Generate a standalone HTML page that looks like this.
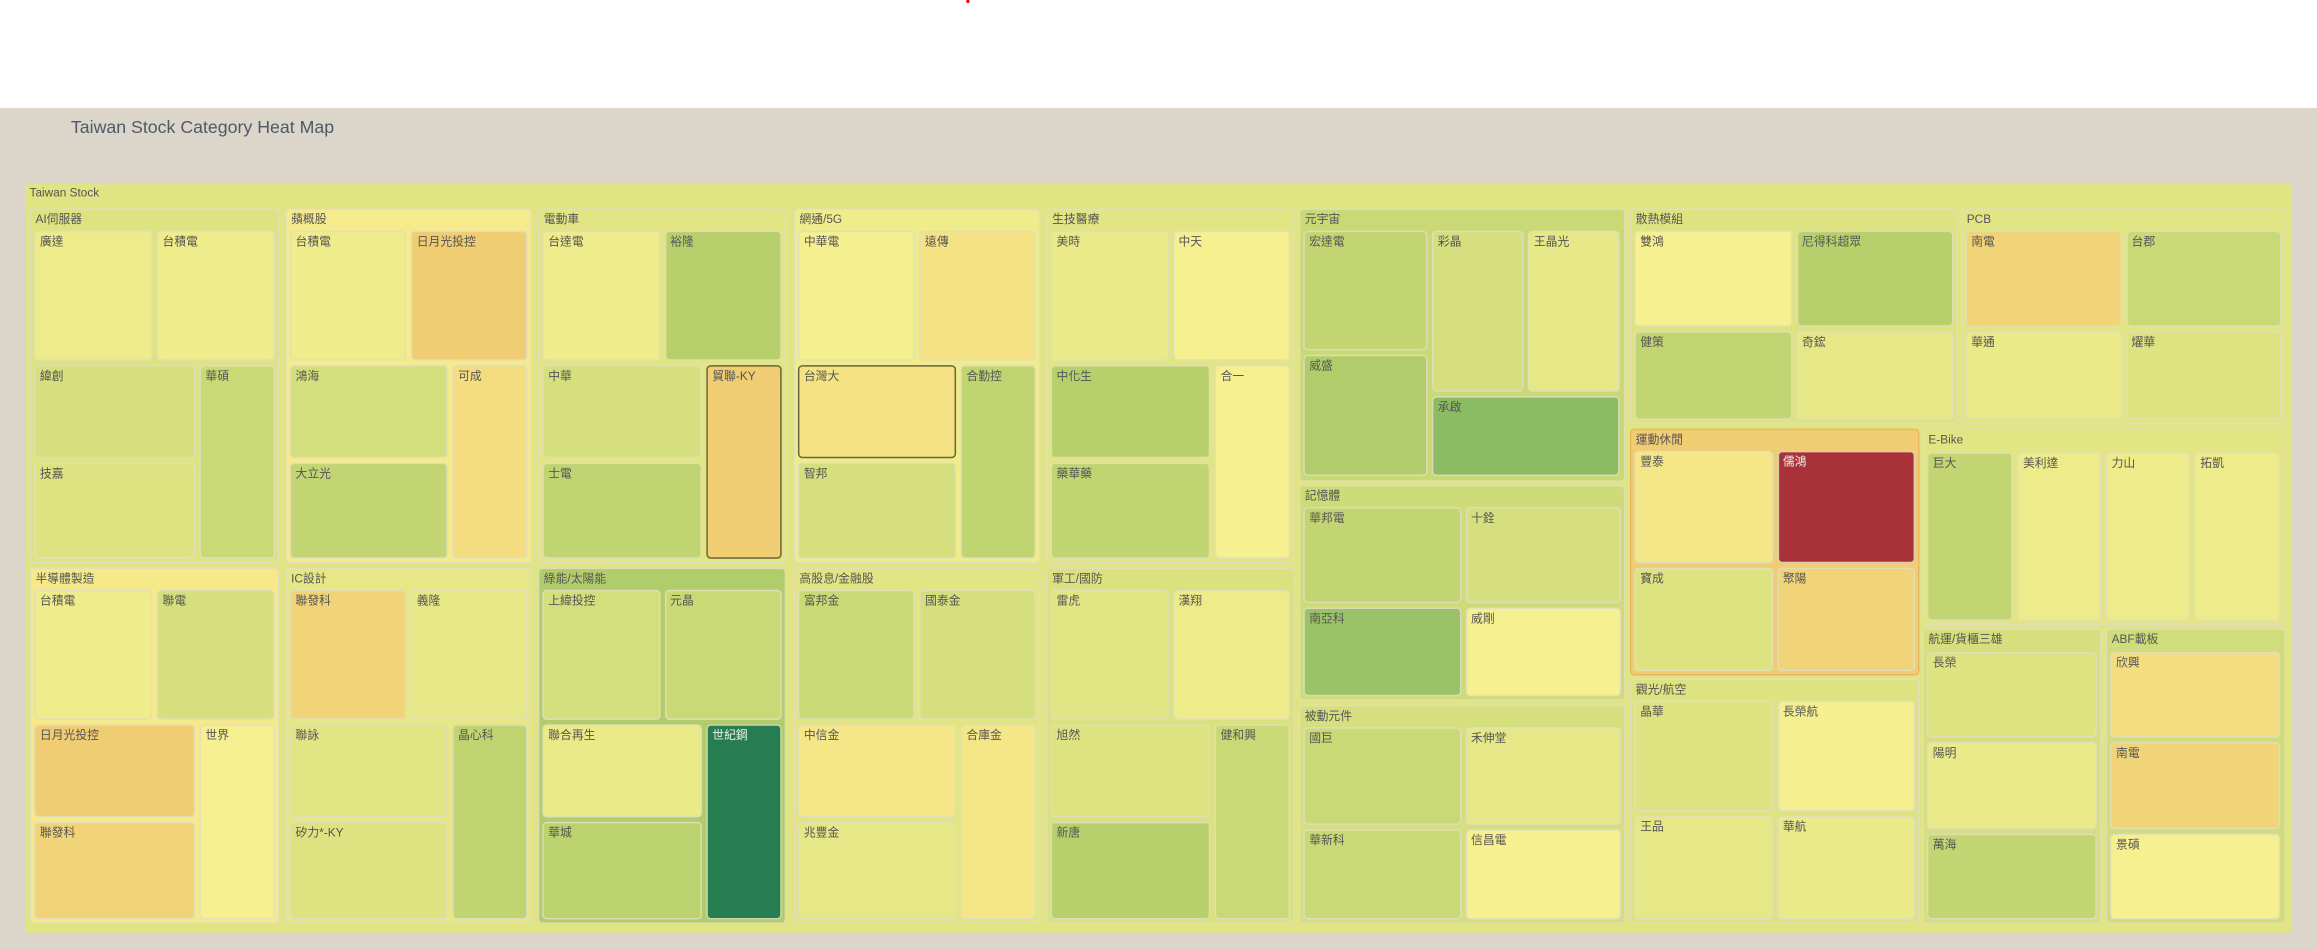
<!DOCTYPE html>
<html><head><meta charset="utf-8">
<style>
html,body{margin:0;padding:0;background:#fff;overflow:hidden;width:2317px;height:949px}
#stage{position:absolute;left:0;top:0;width:1568px;height:642px;transform-origin:0 0;transform:scale(1.47768,1.47819);font-family:"Liberation Sans","Noto Sans CJK TC",sans-serif}
#bg{position:absolute;left:0;top:73px;width:1568px;height:569px;background:#dcd5c9}
#title{position:absolute;left:48px;top:79px;font-size:12px;color:#4d5a68}
.box{position:absolute;box-sizing:border-box;border-radius:3px;border:1px solid rgba(225,222,190,0.9);overflow:hidden}
.lbl{position:absolute;left:3px;top:2px;font-size:8px;color:#555;white-space:nowrap;line-height:10px}
</style></head><body>
<div id="stage">
<div style="position:absolute;left:654px;top:0;width:2px;height:2px;background:#e00"></div>
<div id="bg"></div>
<div id="title">Taiwan Stock Category Heat Map</div>
<div id="tm"></div>
</div>
<script>
const sectorNames=["AI伺服器","蘋概股","電動車","網通/5G","生技醫療","半導體製造","IC設計","綠能/太陽能","高股息/金融股","軍工/國防","元宇宙","記憶體","被動元件","散熱模組","PCB","運動休閒","觀光/航空","E-Bike","航運/貨櫃三雄","ABF載板"];
const sectorChange=[0.6,-0.2,0.5,0.2,0.5,-0.3,0.4,1.6,0.5,0.7,1.1,1.0,0.8,0.6,0.5,-1.5,0.6,0.5,0.8,0.9];
const stockNames=[
["廣達","台積電","緯創","技嘉","華碩"],
["台積電","日月光投控","鴻海","大立光","可成"],
["台達電","裕隆","中華","士電","貿聯-KY"],
["中華電","遠傳","台灣大","智邦","合勤控"],
["美時","中天","中化生","藥華藥","合一"],
["台積電","聯電","日月光投控","聯發科","世界"],
["聯發科","義隆","聯詠","矽力*-KY","晶心科"],
["上緯投控","元晶","聯合再生","華城","世紀鋼"],
["富邦金","國泰金","中信金","兆豐金","合庫金"],
["雷虎","漢翔","旭然","新唐","健和興"],
["宏達電","彩晶","王晶光","威盛","承啟"],
["華邦電","十銓","南亞科","威剛"],
["國巨","禾伸堂","華新科","信昌電"],
["雙鴻","尼得科超眾","健策","奇鋐"],
["南電","台郡","華通","燿華"],
["豐泰","儒鴻","寶成","聚陽"],
["晶華","長榮航","王品","華航"],
["巨大","美利達","力山","拓凱"],
["長榮","陽明","萬海"],
["欣興","南電","景碩"]];
const stockChange=[
[0.25,0.2,0.8,0.6,1.1],
[0.2,-1.5,0.85,1.25,-0.8],
[0.2,1.5,0.8,1.3,-1.5],
[0.05,-0.6,-0.6,0.8,1.3],
[0.3,0,1.5,1.3,0],
[0.2,0.8,-1.5,-1.2,0],
[-1.2,0.4,0.5,0.6,1.3],
[0.85,1.1,0.3,1.4,3],
[1.1,0.8,-0.4,0.4,-0.4],
[0.5,0.25,0.6,1.5,1.1],
[1.25,0.8,0.4,1.6,2.1],
[1.25,0.8,1.9,0],
[1.1,0.4,1.1,0],
[0,1.5,1.25,0.4],
[-1.2,1.1,0.3,0.6],
[-0.4,-3,0.6,-1.2],
[0.6,0.05,0.4,0.3],
[1.25,0.25,0.25,0.25],
[0.6,0.3,1.25],
[-0.8,-1.2,0]];
// layout (pixel geometry, not data)
const sectorRects=[[20,189,141,381],[193,360,141,381],[364,532,141,381],[537,704,141,381],[708,876,141,381],[20,189,384,625],[193,360,384,625],[364,532,384,625],[537,704,384,625],[708,876,384,625],[879,1100,141,326],[879,1100,328,474],[879,1100,477,625],[1103,1325,141,287],[1327,1547,141,287],[1103,1299,290,457],[1103,1299,459,625],[1301,1547,290,423],[1301,1422,425,625],[1425,1547,425,625]];
const L5=(x,w,y,h)=>{const a=(w-9)/2;const top=Math.round((h-21)*0.4);const r=x+w-3-Math.round((w-9)*0.32);return[[x+3,x+3+a,y+15,y+15+top],[x+6+a,x+w-3,y+15,y+15+top],[x+3,r-3,y+18+top,y+18+top+(h-24-top)/2-1.5],[x+3,r-3,y+18+top+(h-24-top)/2+1.5,y+h-3],[r,x+w-3,y+18+top,y+h-3]];};
const tileRects=[];
for(let i=0;i<10;i++){const s=sectorRects[i];tileRects.push(L5(s[0],s[1]-s[0],s[2],s[3]-s[2]));}
tileRects.push([[882,966,156,237],[969,1031,156,265],[1034,1096,156,265],[882,966,240,322],[969,1096,268,322]]);
const Q=(x0,x1,y0,y1)=>{const m=Math.round((x0+x1)/2),n=Math.round((y0+16+y1)/2);return[[x0+3,m-1.5,y0+15,n-1.5],[m+1.5,x1-3,y0+15,n-1.5],[x0+3,m-1.5,n+1.5,y1-3],[m+1.5,x1-3,n+1.5,y1-3]];};
for(let i=11;i<17;i++){const s=sectorRects[i];tileRects.push(Q(s[0],s[1],s[2],s[3]));}
tileRects.push([[1304,1362,306,420],[1365,1422,306,420],[1425,1482,306,420],[1485,1543,306,420]]);
tileRects.push([[1304,1419,441,499],[1304,1419,502,561],[1304,1419,564,622]]);
tileRects.push([[1428,1543,441,499],[1428,1543,502,561],[1428,1543,564,622]]);
const highlighted={"2-4":1,"3-2":1};
const stops=[-3,-1.5,0,1.5,2.2,3];
const stopCols=["#a83238","#f0cc72","#f7f090","#b8d06c","#84b762","#267d4f"];
function hx(c){return[1,3,5].map(i=>parseInt(c.substr(i,2),16));}
function colorScale(v){v=Math.max(-3,Math.min(3,v));for(let i=0;i<stops.length-1;i++){if(v<=stops[i+1]){const t=(v-stops[i])/(stops[i+1]-stops[i]);const a=hx(stopCols[i]),b=hx(stopCols[i+1]);return"rgb("+a.map((x,k)=>Math.round(x+(b[k]-x)*t)).join(",")+")";}}return stopCols[5];}
const tm=document.getElementById('tm');
function box(r,col,label){const d=document.createElement('div');d.className='box';d.style.left=r[0]+'px';d.style.top=r[2]+'px';d.style.width=(r[1]-r[0])+'px';d.style.height=(r[3]-r[2])+'px';d.style.background=col;const l=document.createElement('div');l.className='lbl';l.textContent=label;


d.appendChild(l);tm.appendChild(d);return d;}
const root=box([17,1551,124,631],colorScale(0.55),"Taiwan Stock");


root.style.border='none';
sectorNames.forEach((n,i)=>{
  const s=box(sectorRects[i],colorScale(sectorChange[i]),n);
  
  
  if(i==15){s.style.border='1px solid #e8b860';}
  stockNames[i].forEach((sn,j)=>{
    const t=box(tileRects[i][j],colorScale(stockChange[i][j]),sn);
    
    
    if(highlighted[i+"-"+j]){t.style.border='1px solid #6b6340';}
    if(stockChange[i][j]>=2.8||stockChange[i][j]<=-2.8){t.firstChild.style.color='#eee';}
  });
});
</script>
</body></html>
